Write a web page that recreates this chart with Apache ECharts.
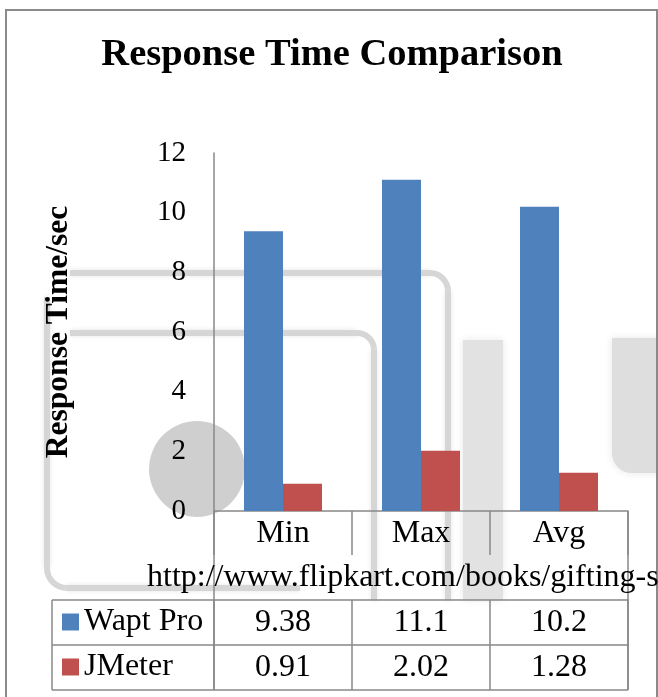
<!DOCTYPE html>
<html><head><meta charset="utf-8">
<script src="https://cdn.jsdelivr.net/npm/echarts@6/dist/echarts.min.js"></script>
<style>html,body{margin:0;padding:0;background:#fff;overflow:hidden}#c{width:658px;height:697px}</style>
</head><body><div id="c"></div>
<script>
// ---- data ----
const categories = ['Min', 'Max', 'Avg'];
const waptPro = [9.38, 11.1, 10.2];
const jMeter = [0.91, 2.02, 1.28];
const yTicks = [0, 2, 4, 6, 8, 10, 12];
const seriesNames = ['Wapt Pro', 'JMeter'];
const titleText = 'Response Time Comparison';
const yAxisName = 'Response Time/sec';
const urlText = 'http://www.flipkart.com/books/gifting-s';

// ---- layout / style ----
const FONT = '"Liberation Serif", "Times New Roman", serif';
const LINE = '#888888';
const G = { left: 214, right: 628, top: 153, bottom: 511 };
const ROW = { headerBottom: 555, r1: 600, r2: 645, end: 690, legendLeft: 52 };
const W = 658, H = 697;
const lbl = { fontSize: 32, fontFamily: FONT, color: '#000', lineHeight: 32 };

const chart = echarts.init(document.getElementById('c'), null, { renderer: 'canvas' });

function line(x1, y1, x2, y2, z) {
  return { type: 'line', z: z || 10, silent: true,
    shape: { x1, y1, x2, y2 }, style: { stroke: LINE, lineWidth: 1.5 } };
}
const WM = '#d6d6d6';
function wl(x1, y1, x2, y2) {
  return { type: 'line', z: -10, silent: true, shape: { x1, y1, x2, y2 },
    style: { stroke: WM, lineWidth: 6, shadowBlur: 5, shadowColor: '#e6e6e6' } };
}
function warc(cx, cy, r, s, e) {
  return { type: 'arc', z: -10, silent: true, shape: { cx, cy, r, startAngle: s, endAngle: e },
    style: { stroke: WM, lineWidth: 6, fill: null } };
}

const graphics = [
  // watermark (background decoration)
  wl(70, 273, 430, 273), warc(430, 291, 18, -Math.PI / 2, 0), wl(448, 291, 448, 600),
  wl(70, 333, 357, 333), warc(357, 350, 17, -Math.PI / 2, 0), wl(374, 350, 374, 600),
  wl(47, 297, 47, 568), warc(67, 568, 20, Math.PI / 2, Math.PI), wl(67, 588, 300, 588),
  { type: 'circle', z: -11, silent: true, shape: { cx: 197, cy: 469, r: 48 },
    style: { fill: '#cfcfcf' } },
  { type: 'rect', z: -11, silent: true, shape: { x: 463, y: 340, width: 40, height: 260 },
    style: { fill: '#e2e2e2', shadowBlur: 8, shadowColor: '#e8e8e8' } },
  { type: 'rect', z: -11, silent: true, shape: { x: 612, y: 338, width: 50, height: 135, r: [0, 0, 0, 20] },
    style: { fill: '#dedede', shadowBlur: 8, shadowColor: '#e8e8e8' } },
  // outer frame
  { type: 'rect', z: 5, silent: true, shape: { x: 6, y: 10, width: 651, height: 700 },
    style: { fill: null, stroke: '#8a8a8a', lineWidth: 2 } },
  // data-table frame
  line(G.left, G.bottom, G.left, ROW.end),
  line(G.right, G.bottom, G.right, ROW.end),
  line(ROW.legendLeft, ROW.end, G.right, ROW.end),
  line(ROW.legendLeft, ROW.r1, G.left, ROW.r1),
  line(ROW.legendLeft, ROW.r2, G.left, ROW.r2),
  line(ROW.legendLeft, ROW.r1, ROW.legendLeft, ROW.end),
  // url line
  { type: 'text', z: 20, silent: true,
    style: { text: urlText, x: 147, y: 578, font: '32px ' + FONT, fill: '#000',
      verticalAlign: 'middle', textVerticalAlign: 'middle' } }
];

function tableAxis(offset, values) {
  return {
    type: 'category', data: categories, position: 'bottom', offset: offset,
    axisLine: { show: true, lineStyle: { color: LINE, width: 1.5 } },
    axisTick: { show: true, length: 45, lineStyle: { color: LINE, width: 1.5 } },
    axisLabel: Object.assign({ margin: 7, formatter: (v, i) => String(values[i]) }, lbl)
  };
}

chart.setOption({
  animation: false,
  backgroundColor: '#fff',
  title: { text: titleText, left: 332, textAlign: 'center', top: 36, padding: 0,
    textStyle: { fontSize: 38.5, fontWeight: 'bold', fontFamily: FONT, color: '#000' } },
  legend: { data: seriesNames, orient: 'vertical', left: 62, top: 606, padding: 0,
    itemWidth: 17, itemHeight: 17, itemGap: 13, icon: 'rect', selectedMode: false,
    textStyle: lbl },
  grid: { left: G.left, right: W - G.right, top: G.top, bottom: H - G.bottom, containLabel: false },
  xAxis: [
    {
      type: 'category', data: categories, position: 'bottom',
      axisLine: { show: true, lineStyle: { color: LINE, width: 1.5 } },
      axisTick: { show: true, length: 44, lineStyle: { color: LINE, width: 1.5 } },
      axisLabel: Object.assign({ margin: 7 }, lbl)
    },
    tableAxis(ROW.r1 - G.bottom, waptPro),
    tableAxis(ROW.r2 - G.bottom, jMeter)
  ],
  yAxis: {
    type: 'value', min: yTicks[0], max: yTicks[yTicks.length - 1], interval: yTicks[1] - yTicks[0],
    axisLine: { show: true, lineStyle: { color: LINE, width: 1.5 } },
    axisTick: { show: false }, splitLine: { show: false },
    axisLabel: Object.assign({ margin: 28 }, lbl, { fontSize: 29 }),
    name: yAxisName, nameLocation: 'middle', nameGap: 139,
    nameTextStyle: { fontSize: 31.5, fontWeight: 'bold', fontFamily: FONT, color: '#000' }
  },
  series: [
    { name: seriesNames[0], type: 'bar', data: waptPro, barWidth: 39, barGap: '0%',
      itemStyle: { color: '#4F81BD' } },
    { name: seriesNames[1], type: 'bar', data: jMeter, barWidth: 39, barGap: '0%',
      itemStyle: { color: '#C0504D' } }
  ],
  graphic: graphics
});
</script>
</body></html>
